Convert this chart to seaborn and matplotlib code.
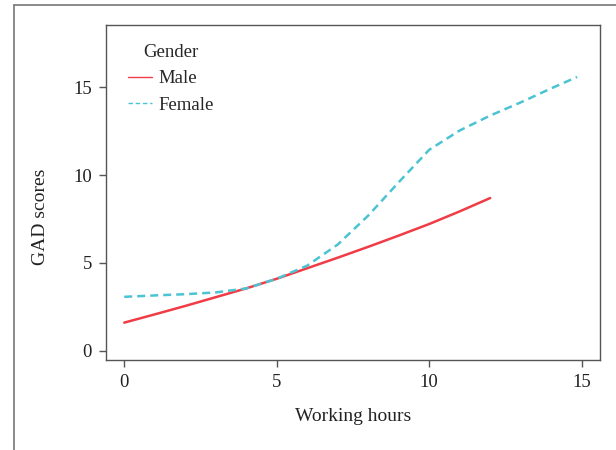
import pandas as pd
import matplotlib.pyplot as plt
import seaborn as sns
from matplotlib.lines import Line2D

# Values
male_hours = [0, 1, 2, 3, 4, 5, 6, 7, 8, 9, 10, 11, 12]
male_gad = [1.6, 2.07, 2.55, 3.05, 3.55, 4.1, 4.7, 5.3, 5.92, 6.56, 7.22, 7.94, 8.7]

female_hours = [0, 1, 2, 3, 4, 5, 6, 7, 8, 9, 10, 11, 12, 13, 14, 14.85]
female_gad = [3.07, 3.15, 3.22, 3.32, 3.55, 4.1, 4.85, 6.05, 7.7, 9.6, 11.45, 12.55,
              13.4, 14.15, 14.95, 15.6]

df = pd.DataFrame({
    "Working hours": male_hours + female_hours,
    "GAD scores": male_gad + female_gad,
    "Gender": ["Male"] * len(male_hours) + ["Female"] * len(female_hours),
})

sns.set_style("ticks")
plt.rcParams["font.family"] = ["Liberation Serif", "DejaVu Serif"]

fig = plt.figure(figsize=(6.16, 4.5), dpi=100)
ax = fig.add_axes([0.172, 0.2, 0.802, 0.744])

palette = {"Male": "#F03C46", "Female": "#4CC3D3"}
sns.lineplot(data=df, x="Working hours", y="GAD scores", hue="Gender", style="Gender",
             palette=palette, dashes={"Male": "", "Female": (3.2, 2.0)},
             linewidth=1.8, ax=ax, estimator=None, sort=True)

ax.set_xlim(-0.6, 15.6)
ax.set_ylim(-0.53, 18.55)
ax.set_xticks([0, 5, 10, 15])
ax.set_yticks([0, 5, 10, 15])

edge = "#555555"
for s in ax.spines.values():
    s.set_visible(True)
    s.set_color(edge)
    s.set_linewidth(1.0)
ax.tick_params(direction="out", length=5, width=1.0, color=edge,
               labelsize=13.5, labelcolor="#222222", pad=5)
ax.set_xlabel("Working hours", fontsize=14, color="#222222", labelpad=12)
ax.set_ylabel("GAD scores", fontsize=14, color="#222222")
ax.yaxis.set_label_coords(-0.115, 0.427)

leg = ax.legend(title="Gender", loc="upper left", frameon=False, fontsize=13.5,
                title_fontsize=13.5, handlelength=1.3, handletextpad=0.35,
                labelspacing=0.5, bbox_to_anchor=(0.01, 0.995))
for line in leg.get_lines():
    line.set_linewidth(1.0)

# outer frame around the figure (open at right and bottom)
fig.add_artist(Line2D([14 / 616, 1.0], [1 - 5 / 450, 1 - 5 / 450],
                      transform=fig.transFigure, color="#777777", linewidth=1.2))
fig.add_artist(Line2D([14 / 616, 14 / 616], [0.0, 1 - 5 / 450],
                      transform=fig.transFigure, color="#777777", linewidth=1.2))

fig.savefig("out.png", dpi=100)
